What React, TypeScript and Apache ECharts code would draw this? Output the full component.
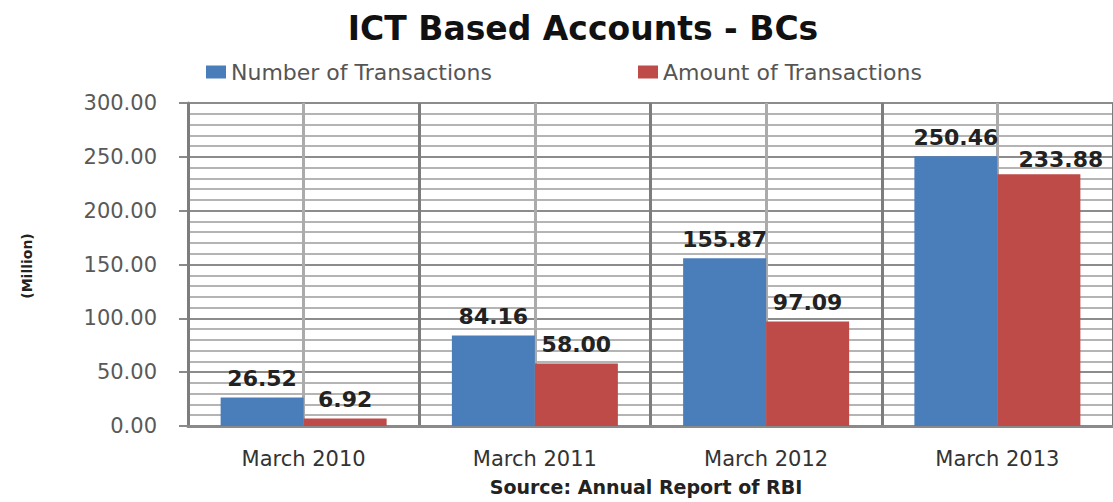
import React, { useEffect, useRef } from "react";
import * as echarts from "echarts";

const categories = ["March 2010", "March 2011", "March 2012", "March 2013"];
const numberOfTransactions = [26.52, 84.16, 155.87, 250.46];
const amountOfTransactions = [6.92, 58.0, 97.09, 233.88];
const seriesNames = ["Number of Transactions", "Amount of Transactions"];
const halfSlots = ["a", "b", "c", "d", "e", "f", "g", "h"];

const FONT = "DejaVu Sans";

export default function App() {
  const ref = useRef<HTMLDivElement>(null);
  useEffect(() => {
    document.body.style.margin = "0";
    const chart = echarts.init(ref.current!, undefined, { renderer: "svg" });
    const labelStyle = {
      show: true,
      position: "top",
      distance: 8,
      fontFamily: FONT,
      fontWeight: "bold",
      fontSize: 22,
      color: "#222",
      formatter: (p: any) => Number(p.value).toFixed(2),
    };
    // the last red label is pushed right, as in the reference, so it clears its neighbour
    const amountData = amountOfTransactions.map((v, i) =>
      i === amountOfTransactions.length - 1
        ? { value: v, label: { offset: [22, 4] } }
        : v
    );
    chart.setOption({
      animation: false,
      backgroundColor: "#fff",
      graphic: [
        {
          type: "text",
          x: 583,
          y: 28,
          style: {
            text: "ICT Based Accounts - BCs",
            font: `bold 33px ${FONT}`,
            fill: "#111",
            textAlign: "center",
            textVerticalAlign: "middle",
          },
        },
        {
          type: "text",
          x: 646,
          y: 487,
          style: {
            text: "Source: Annual Report of RBI",
            font: `bold 19px ${FONT}`,
            fill: "#222",
            textAlign: "center",
            textVerticalAlign: "middle",
          },
        },
        {
          type: "text",
          x: 27,
          y: 266,
          rotation: Math.PI / 2,
          style: {
            text: "(Million)",
            font: `bold 14px ${FONT}`,
            fill: "#222",
            textAlign: "center",
            textVerticalAlign: "middle",
          },
        },
      ],
      legend: [
        {
          data: [seriesNames[0]],
          left: 201,
          top: 56,
          icon: "rect",
          itemWidth: 20,
          itemHeight: 13,
          itemGap: 9,
          textStyle: { fontFamily: FONT, fontSize: 22, color: "#555" },
        },
        {
          data: [seriesNames[1]],
          left: 633,
          top: 56,
          icon: "rect",
          itemWidth: 20,
          itemHeight: 13,
          itemGap: 9,
          textStyle: { fontFamily: FONT, fontSize: 22, color: "#555" },
        },
      ],
      grid: { left: 188, right: -3, top: 103, bottom: 76 },
      xAxis: [
        {
          type: "category",
          data: categories,
          z: 2,
          boundaryGap: true,
          axisLine: { show: true, lineStyle: { color: "#8a8a8a", width: 3 } },
          axisTick: { show: false },
          axisLabel: {
            interval: 0,
            margin: 22,
            fontFamily: FONT,
            fontSize: 21,
            color: "#333",
          },
          splitLine: {
            show: true,
            interval: 0,
            lineStyle: { color: "#7d7d7d", width: 3 },
          },
        },
        {
          type: "category",
          data: halfSlots,
          position: "bottom",
          z: 1,
          boundaryGap: true,
          axisLine: { show: false },
          axisTick: { show: false },
          axisLabel: { show: false, interval: 0 },
          splitLine: {
            show: true,
            interval: 0,
            lineStyle: { color: "#ababab", width: 3 },
          },
        },
      ],
      yAxis: {
        type: "value",
        min: 0,
        max: 300,
        interval: 50,
        z: 0,
        axisLine: { show: true, lineStyle: { color: "#8a8a8a", width: 3 } },
        axisTick: {
          show: true,
          length: 9,
          lineStyle: { color: "#8a8a8a", width: 2 },
        },
        axisLabel: {
          margin: 31,
          fontFamily: FONT,
          fontSize: 21,
          color: "#595959",
          formatter: (v: number) => v.toFixed(2),
        },
        splitLine: { show: true, lineStyle: { color: "#8c8c8c", width: 2 } },
        minorTick: { show: false, splitNumber: 5 },
        minorSplitLine: {
          show: true,
          lineStyle: { color: "#b4b4b4", width: 2 },
        },
      },
      series: [
        {
          name: seriesNames[0],
          type: "bar",
          xAxisIndex: 0,
          data: numberOfTransactions,
          barWidth: 83,
          barGap: "0%",
          z: 3,
          itemStyle: { color: "#4a7ebb" },
          label: labelStyle,
        },
        {
          name: seriesNames[1],
          type: "bar",
          xAxisIndex: 0,
          data: amountData,
          barWidth: 83,
          barGap: "0%",
          z: 3,
          itemStyle: { color: "#be4b48" },
          label: labelStyle,
        },
      ],
    });
    return () => chart.dispose();
  }, []);
  return <div ref={ref} style={{ width: 1113, height: 502 }} />;
}
